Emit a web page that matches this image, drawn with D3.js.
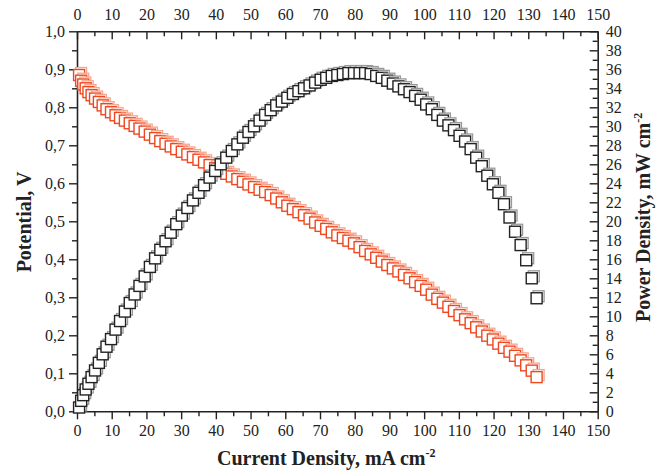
<!DOCTYPE html>
<html>
<head>
<meta charset="utf-8">
<script src="https://cdn.jsdelivr.net/npm/d3@7"></script>
<style>
  body { margin: 0; background: #fff; }
  svg { display: block; }
  .axis text { font-family: "Liberation Serif", "Times New Roman", serif; font-size: 16px; fill: #222; }
  .title { font-family: "Liberation Serif", "Times New Roman", serif; font-size: 20px; font-weight: bold; fill: #222; }
</style>
</head>
<body>
<div id="chart"></div>
<script>
'use strict'

// current density, mA cm-2 (shared by both curves)
const currentDensity = [
  0.6, 1.2, 1.8, 2.5, 3.3, 4.2, 5.2, 6.3, 7.4, 8.5, 9.8, 11.1, 12.4, 13.8, 15.2, 16.6,
  18.0, 19.5, 21.0, 22.5, 24.0, 25.5, 27.0, 28.6, 30.2, 31.8, 33.4, 35.0, 36.6, 38.2,
  39.8, 41.4, 43.0, 44.6, 46.2, 47.8, 49.4, 51.0, 52.6, 54.2, 55.8, 57.4, 59.0, 60.6,
  62.2, 63.8, 65.4, 67.0, 68.6, 70.2, 71.8, 73.4, 75.0, 76.6, 78.2, 79.8, 81.4, 83.0,
  84.6, 86.2, 87.8, 89.4, 91.0, 92.6, 94.2, 95.8, 97.4, 99.0, 100.6, 102.2, 103.8,
  105.4, 107.0, 108.6, 110.2, 111.8, 113.4, 115.0, 116.6, 118.2, 119.8, 121.4, 123.0,
  124.6, 126.2, 127.8, 129.4, 131.0, 132.4
]

// potential, V (left axis)
const potential = [
  0.885, 0.870, 0.860, 0.850, 0.840, 0.832, 0.823, 0.814, 0.805, 0.795, 0.787, 0.779,
  0.772, 0.765, 0.758, 0.751, 0.744, 0.736, 0.728, 0.719, 0.711, 0.704, 0.697, 0.690,
  0.683, 0.676, 0.669, 0.662, 0.655, 0.648, 0.640, 0.632, 0.625, 0.618, 0.611, 0.604,
  0.597, 0.590, 0.583, 0.577, 0.569, 0.560, 0.550, 0.541, 0.532, 0.524, 0.516, 0.507,
  0.497, 0.488, 0.480, 0.471, 0.463, 0.456, 0.449, 0.442, 0.432, 0.422, 0.413, 0.404,
  0.394, 0.385, 0.376, 0.368, 0.359, 0.350, 0.340, 0.330, 0.320, 0.307, 0.296, 0.286,
  0.275, 0.264, 0.253, 0.242, 0.232, 0.221, 0.210, 0.199, 0.189, 0.178, 0.167, 0.157,
  0.146, 0.134, 0.121, 0.107, 0.090
]

// power density, mW cm-2 (right axis)
const powerDensity = [
  0.4, 1.1, 1.7, 2.3, 2.9, 3.6, 4.3, 5.1, 6.0, 6.8, 7.6, 8.6, 9.5, 10.5, 11.4, 12.3,
  13.2, 14.2, 15.2, 16.1, 17.0, 17.9, 18.8, 19.7, 20.6, 21.4, 22.2, 23.0, 23.8, 24.6,
  25.3, 26.0, 26.7, 27.4, 28.1, 28.8, 29.4, 30.0, 30.6, 31.2, 31.7, 32.2, 32.6, 33.0,
  33.4, 33.7, 34.0, 34.3, 34.6, 34.9, 35.1, 35.3, 35.4, 35.5, 35.6, 35.6, 35.6, 35.6,
  35.5, 35.3, 35.1, 34.8, 34.5, 34.2, 33.9, 33.6, 33.2, 32.8, 32.3, 31.8, 31.2, 30.6,
  30.1, 29.6, 29.0, 28.4, 27.6, 26.7, 25.8, 24.8, 23.9, 23.0, 21.8, 20.4, 18.9, 17.5,
  15.9, 14.0, 11.9
]

const currentTicks = [0, 10, 20, 30, 40, 50, 60, 70, 80, 90, 100, 110, 120, 130, 140, 150]
const potentialTicks = [0, 0.1, 0.2, 0.3, 0.4, 0.5, 0.6, 0.7, 0.8, 0.9, 1.0]
const powerTicks = [0, 2, 4, 6, 8, 10, 12, 14, 16, 18, 20, 22, 24, 26, 28, 30, 32, 34, 36, 38, 40]

const W = 665
const H = 473
const plot = { left: 77, right: 597.7, top: 31.3, bottom: 411.3 }

const svg = d3.select('#chart').append('svg')
  .attr('width', W)
  .attr('height', H)

const x = d3.scaleLinear().domain([0, 150]).range([plot.left, plot.right])
const yV = d3.scaleLinear().domain([0, 1]).range([plot.bottom, plot.top])
const yP = d3.scaleLinear().domain([0, 40]).range([plot.bottom, plot.top])

const commaFmt = d => d3.format('.1f')(d).replace('.', ',')

function styleAxis (g) {
  g.attr('class', 'axis')
  g.select('.domain').attr('stroke', '#222').attr('stroke-width', 1.6)
  g.selectAll('.tick line').attr('stroke', '#222').attr('stroke-width', 1.4)
}

function minorAxis (axis, pos, values) {
  svg.append('g')
    .attr('transform', pos)
    .call(axis.tickValues(values).tickFormat('').tickSizeOuter(0))
    .call(g => g.select('.domain').remove())
    .call(g => g.selectAll('.tick line').attr('stroke', '#222').attr('stroke-width', 1.4))
}

// minor ticks
const xMinor = d3.range(5, 150, 10)
minorAxis(d3.axisBottom(x).tickSize(5), `translate(0,${plot.bottom})`, xMinor)
minorAxis(d3.axisTop(x).tickSize(-5), `translate(0,${plot.top})`, xMinor)
minorAxis(d3.axisLeft(yV).tickSize(5), `translate(${plot.left},0)`, d3.range(0.05, 1, 0.1))
minorAxis(d3.axisRight(yP).tickSize(-5), `translate(${plot.right},0)`, d3.range(1, 40, 2))

// major axes
svg.append('g')
  .attr('transform', `translate(0,${plot.bottom})`)
  .call(d3.axisBottom(x).tickValues(currentTicks).tickSize(8).tickPadding(5).tickSizeOuter(0))
  .call(styleAxis)

svg.append('g')
  .attr('transform', `translate(0,${plot.top})`)
  .call(d3.axisTop(x).tickValues(currentTicks).tickSize(-8).tickPadding(11).tickSizeOuter(0))
  .call(styleAxis)

svg.append('g')
  .attr('transform', `translate(${plot.left},0)`)
  .call(d3.axisLeft(yV).tickValues(potentialTicks).tickFormat(commaFmt).tickSize(8).tickPadding(4).tickSizeOuter(0))
  .call(styleAxis)

svg.append('g')
  .attr('transform', `translate(${plot.right},0)`)
  .call(d3.axisRight(yP).tickValues(powerTicks).tickSize(-8).tickPadding(8).tickSizeOuter(0))
  .call(styleAxis)

// markers: hollow squares, each with a faint offset copy behind it
const size = 11
function drawSeries (values, yScale, color, shade) {
  const pts = currentDensity.map((c, i) => [x(c), yScale(values[i])])
  const g = svg.append('g')
  pts.forEach(p => {
    g.append('rect')
      .attr('x', p[0] - size / 2 + 2)
      .attr('y', p[1] - size / 2 - 2)
      .attr('width', size).attr('height', size)
      .attr('fill', '#fff').attr('stroke', shade).attr('stroke-width', 1.3)
    g.append('rect')
      .attr('x', p[0] - size / 2)
      .attr('y', p[1] - size / 2)
      .attr('width', size).attr('height', size)
      .attr('fill', '#fff').attr('stroke', color).attr('stroke-width', 1.4)
  })
}

drawSeries(potential, yV, '#ee4820', '#f6a58f')
drawSeries(powerDensity, yP, '#222', '#999')

// axis titles
svg.append('text')
  .attr('class', 'title')
  .attr('x', 217).attr('y', 465)
  .text('Current Density, mA cm')
  .append('tspan')
  .attr('dy', -8).style('font-size', '12px')
  .text('-2')

svg.append('text')
  .attr('class', 'title')
  .attr('transform', 'translate(31,222) rotate(-90)')
  .attr('text-anchor', 'middle')
  .text('Potential, V')

svg.append('text')
  .attr('class', 'title')
  .attr('transform', 'translate(650,322) rotate(-90)')
  .text('Power Density, mW cm')
  .append('tspan')
  .attr('dy', -8).style('font-size', '12px')
  .text('-2')
</script>
</body>
</html>
